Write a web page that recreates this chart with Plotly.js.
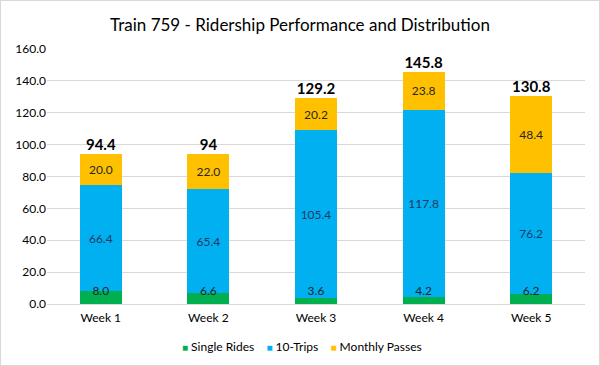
<!DOCTYPE html>
<html>
<head>
<meta charset="utf-8">
<script src="https://cdn.plot.ly/plotly-3.0.1.min.js"></script>
<style>
  html, body { margin: 0; padding: 0; background: #fff; }
  #chart { width: 598px; height: 364px; border: 1px solid #d9d9d9; }
</style>
</head>
<body>
<div id="chart"></div>
<script>
const weeks = ["Week 1", "Week 2", "Week 3", "Week 4", "Week 5"];
const singleRides = [8.0, 6.6, 3.6, 4.2, 6.2];
const tenTrips = [66.4, 65.4, 105.4, 117.8, 76.2];
const monthlyPasses = [20.0, 22.0, 20.2, 23.8, 48.4];
const totalLabels = ["94.4", "94", "129.2", "145.8", "130.8"];
const seriesNames = ["Single Rides", "10-Trips", "Monthly Passes"];

const totals = weeks.map((_, i) => singleRides[i] + tenTrips[i] + monthlyPasses[i]);
const fmt = v => v.toFixed(1);
const FONT = "Lato, 'Open Sans', sans-serif";
const COLORS = ["#00B050", "#00B0F0", "#FFC000"];
const smallLabelY = 7.7;

const traces = [
  {
    type: "bar", name: seriesNames[0], x: weeks, y: singleRides,
    marker: { color: COLORS[0] }, hoverinfo: "skip"
  },
  {
    type: "bar", name: seriesNames[1], x: weeks, y: tenTrips,
    marker: { color: COLORS[1] },
    text: tenTrips.map(fmt), textposition: "inside", insidetextanchor: "middle",
    textfont: { family: FONT, size: 12, color: "#1f3864" }, constraintext: "none",
    hoverinfo: "skip"
  },
  {
    type: "bar", name: seriesNames[2], x: weeks, y: monthlyPasses,
    marker: { color: COLORS[2] },
    text: monthlyPasses.map(fmt), textposition: "inside", insidetextanchor: "middle",
    textfont: { family: FONT, size: 12, color: "#262626" }, constraintext: "none",
    hoverinfo: "skip"
  },
  {
    type: "scatter", mode: "text", x: weeks, y: weeks.map(() => smallLabelY),
    text: singleRides.map(fmt), textposition: "middle center",
    textfont: { family: FONT, size: 12, color: "#262626" },
    showlegend: false, hoverinfo: "skip"
  },
  {
    type: "scatter", mode: "text", x: weeks, y: totals,
    text: totalLabels, textposition: "top center",
    textfont: { family: FONT, size: 15, color: "#000", weight: "bold" },
    showlegend: false, hoverinfo: "skip"
  }
];

const NB = "\u00A0";
const legendText = seriesNames.map((n, i) =>
  `<span style="color:${COLORS[i]};font-size:10px">■</span>${NB}${n}`
).join(NB.repeat(4));

const layout = {
  width: 598, height: 364,
  margin: { l: 46, r: 14, t: 48, b: 61, autoexpand: false },
  paper_bgcolor: "#fff", plot_bgcolor: "#fff",
  barmode: "stack", bargap: 0.61,
  title: {
    text: "Train 759 - Ridership Performance and Distribution",
    font: { family: FONT, size: 17, color: "#000" },
    x: 0.5, xref: "container", xanchor: "center", y: 0.935, yref: "container", yanchor: "middle"
  },
  xaxis: {
    type: "category", showgrid: false, zeroline: false,
    showline: false, ticks: "", ticklabelstandoff: 5,
    tickfont: { family: FONT, size: 12, color: "#000" }
  },
  yaxis: {
    range: [0, 160], dtick: 20, tick0: 0, tickformat: ".1f",
    showgrid: true, gridcolor: "#d9d9d9", gridwidth: 1,
    zeroline: true, zerolinecolor: "#d9d9d9", zerolinewidth: 1,
    showline: false, ticks: "", ticklen: 0,
    tickfont: { family: FONT, size: 12, color: "#000" }
  },
  showlegend: false,
  annotations: [{
    text: legendText, showarrow: false,
    xref: "paper", x: 0.474, xanchor: "center",
    yref: "paper", y: -0.165, yanchor: "middle",
    font: { family: FONT, size: 12, color: "#000" }
  }]
};

Plotly.newPlot("chart", traces, layout, { displayModeBar: false, staticPlot: true });
</script>
</body>
</html>
